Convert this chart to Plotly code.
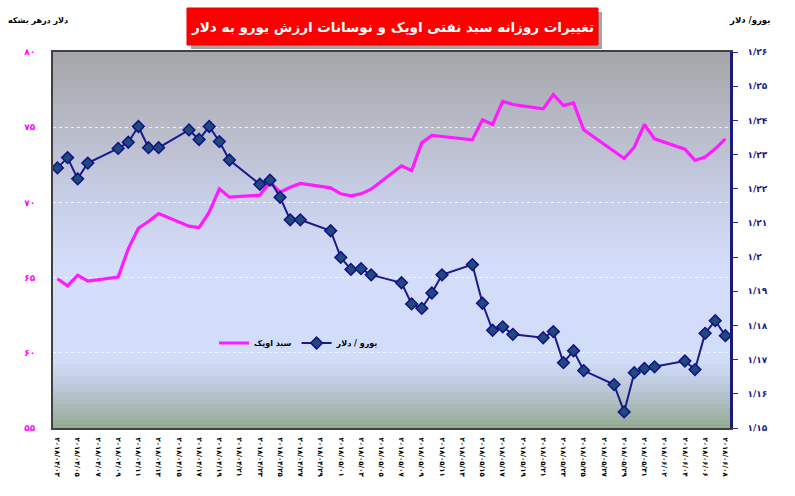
import plotly.graph_objects as go

# ---------------- data ----------------
dates = [
    "2018-04-03", "2018-04-04", "2018-04-05", "2018-04-06",
    "2018-04-09", "2018-04-10", "2018-04-11", "2018-04-12", "2018-04-13",
    "2018-04-16", "2018-04-17", "2018-04-18", "2018-04-19", "2018-04-20",
    "2018-04-23", "2018-04-24", "2018-04-25", "2018-04-26", "2018-04-27",
    "2018-04-30", "2018-05-01", "2018-05-02", "2018-05-03", "2018-05-04",
    "2018-05-07", "2018-05-08", "2018-05-09", "2018-05-10", "2018-05-11",
    "2018-05-14", "2018-05-15", "2018-05-16", "2018-05-17", "2018-05-18",
    "2018-05-21", "2018-05-22", "2018-05-23", "2018-05-24", "2018-05-25",
    "2018-05-28", "2018-05-29", "2018-05-30", "2018-05-31", "2018-06-01",
    "2018-06-04", "2018-06-05", "2018-06-06", "2018-06-07", "2018-06-08",
]

opec_basket = [
    64.92, 64.45, 65.16, 64.76,
    65.03, 66.91, 68.28, 68.73, 69.26,
    68.42, 68.33, 69.35, 70.90, 70.35,
    70.48, 71.34, 70.68, 71.01, 71.26,
    70.97, 70.57, 70.44, 70.57, 70.88,
    72.43, 72.12, 73.96, 74.45, 74.38,
    74.16, 75.49, 75.18, 76.73, 76.51,
    76.22, 77.17, 76.44, 76.62, 74.83,
    73.38, 72.92, 73.67, 75.18, 74.23,
    73.54, 72.79, 73.01, 73.56, 74.23,
]

eur_usd = [
    1.2261, 1.2291, 1.2229, 1.2275,
    1.2318, 1.2336, 1.2382, 1.2320, 1.2320,
    1.2372, 1.2344, 1.2382, 1.2338, 1.2284,
    1.2213, 1.2225, 1.2175, 1.2109, 1.2109,
    1.2077, 1.1999, 1.1964, 1.1966, 1.1948,
    1.1925, 1.1863, 1.1850, 1.1895, 1.1948,
    1.1978, 1.1865, 1.1786, 1.1796, 1.1774,
    1.1764, 1.1782, 1.1691, 1.1726, 1.1668,
    1.1627, 1.1547, 1.1662, 1.1674, 1.1679,
    1.1696, 1.1671, 1.1777, 1.1814, 1.1770,
]

x_tick_dates = [
    "2018-04-03", "2018-04-05", "2018-04-07", "2018-04-09", "2018-04-11",
    "2018-04-13", "2018-04-15", "2018-04-17", "2018-04-19", "2018-04-21",
    "2018-04-23", "2018-04-25", "2018-04-27", "2018-04-29", "2018-05-01",
    "2018-05-03", "2018-05-05", "2018-05-07", "2018-05-09", "2018-05-11",
    "2018-05-13", "2018-05-15", "2018-05-17", "2018-05-19", "2018-05-21",
    "2018-05-23", "2018-05-25", "2018-05-27", "2018-05-29", "2018-05-31",
    "2018-06-02", "2018-06-04", "2018-06-06", "2018-06-08",
]

left_ticks = [55, 60, 65, 70, 75, 80]
left_tick_labels = ["۵۵", "۶۰", "۶۵", "۷۰", "۷۵", "۸۰"]

right_ticks = [1.15, 1.16, 1.17, 1.18, 1.19, 1.20, 1.21, 1.22, 1.23, 1.24, 1.25, 1.26]
right_tick_labels = ["۱/۱۵", "۱/۱۶", "۱/۱۷", "۱/۱۸", "۱/۱۹", "۱/۲",
                     "۱/۲۱", "۱/۲۲", "۱/۲۳", "۱/۲۴", "۱/۲۵", "۱/۲۶"]

title_text = "تغییرات روزانه سبد نفتی اوپک و نوسانات ارزش یورو به دلار"
left_unit = "دلار درهر بشکه"
right_unit = "یورو/ دلار"
name_opec = "سبد اوپک"
name_eur = "یورو / دلار"

# ---------------- helpers ----------------
FA = str.maketrans("0123456789", "۰۱۲۳۴۵۶۷۸۹")
LRO, PDF = "\u202D", "\u202C"
x_tick_text = [LRO + d.replace("-", "/").translate(FA) + PDF for d in x_tick_dates]
right_tick_text = [LRO + t + PDF for t in right_tick_labels]

FONT = "DejaVu Sans"

fig = go.Figure()

fig.add_trace(go.Scatter(
    x=dates, y=opec_basket, name=name_opec, mode="lines",
    line=dict(color="#ff1aff", width=3.2),
    yaxis="y",
))
fig.add_trace(go.Scatter(
    x=dates, y=eur_usd, name=name_eur, mode="lines+markers",
    line=dict(color="#1a1a8c", width=2),
    marker=dict(symbol="diamond", size=9, color="#1f4a7a",
                line=dict(color="#10108a", width=1.5)),
    yaxis="y2",
))

# gradient background bands
stops = [
    (0.00, (166, 166, 168)),
    (0.20, (184, 187, 200)),
    (0.40, (200, 207, 232)),
    (0.58, (212, 221, 250)),
    (0.82, (210, 221, 250)),
    (0.90, (185, 198, 212)),
    (1.00, (148, 170, 146)),
]


def color_at(t):
    for (t0, c0), (t1, c1) in zip(stops[:-1], stops[1:]):
        if t0 <= t <= t1:
            f = (t - t0) / (t1 - t0) if t1 > t0 else 0
            return "rgb(%d,%d,%d)" % tuple(round(a + (b - a) * f) for a, b in zip(c0, c1))
    return "rgb(%d,%d,%d)" % stops[-1][1]


shapes = []
n = 94
for i in range(n):
    top = 1 - i / n
    bot = 1 - (i + 1) / n
    shapes.append(dict(type="rect", xref="paper", yref="paper",
                       x0=0, x1=1, y0=bot - 0.001, y1=top,
                       fillcolor=color_at((i + 0.5) / n), line=dict(width=0),
                       layer="below"))

PW, PH, L, T = 677, 376, 53, 52


def px_x(p):
    return (p - L) / PW


def px_y(p):
    return (T + PH - p) / PH


# title shadow + red box
shapes.append(dict(type="rect", xref="paper", yref="paper",
                   x0=px_x(191), x1=px_x(602), y0=px_y(49), y1=px_y(12),
                   fillcolor="rgba(90,90,90,0.55)", line=dict(width=0),
                   layer="above"))
shapes.append(dict(type="rect", xref="paper", yref="paper",
                   x0=px_x(187), x1=px_x(598), y0=px_y(45), y1=px_y(8),
                   fillcolor="#ff0000", line=dict(color="#e00000", width=1),
                   layer="above"))

annotations = [
    dict(text="<b>" + title_text + "</b>", xref="paper", yref="paper",
         x=px_x(392.5), y=px_y(27), xanchor="center", yanchor="middle",
         showarrow=False,
         font=dict(family=FONT, size=13.5, color="white")),
    dict(text="<b>" + left_unit + "</b>", xref="paper", yref="paper",
         x=px_x(6), y=px_y(20), xanchor="left", yanchor="middle",
         showarrow=False, font=dict(family=FONT, size=8, color="black")),
    dict(text="<b>" + right_unit + "</b>", xref="paper", yref="paper",
         x=px_x(772), y=px_y(20), xanchor="right", yanchor="middle",
         showarrow=False, font=dict(family=FONT, size=8.5, color="black")),
]

fig.update_layout(
    width=795, height=496,
    margin=dict(l=L, r=795 - L - PW, t=T, b=496 - T - PH, autoexpand=False),
    paper_bgcolor="white",
    plot_bgcolor="rgba(0,0,0,0)",
    font=dict(family=FONT, size=9, color="black"),
    shapes=shapes,
    annotations=annotations,
    showlegend=True,
    legend=dict(orientation="h", x=px_x(214), y=px_y(343),
                xanchor="left", yanchor="middle",
                bgcolor="rgba(0,0,0,0)",
                font=dict(family=FONT, size=8, color="black", weight="bold"),
                itemwidth=30, tracegroupgap=0),
    xaxis=dict(
        type="date", automargin=False,
        range=["2018-04-02 13:30", "2018-06-08 11:00"],
        tickvals=x_tick_dates, ticktext=x_tick_text,
        tickangle=90, ticks="", ticklabelstandoff=6,
        tickfont=dict(family=FONT, size=7, color="black", weight="bold"),
        showgrid=False, zeroline=False,
        showline=True, linecolor="#404040", linewidth=2, mirror=True,
    ),
    yaxis=dict(
        range=[55, 80], tickvals=left_ticks, ticktext=left_tick_labels,
        automargin=False,
        tickfont=dict(family=FONT, size=9, color="#ff00ff", weight="bold"),
        ticks="", ticklabelstandoff=14,
        showgrid=True, gridcolor="rgba(255,255,255,0.75)", griddash="dot",
        gridwidth=1, zeroline=False,
        showline=True, linecolor="#404040", linewidth=2,
    ),
    yaxis2=dict(
        range=[1.15, 1.26], tickvals=right_ticks, ticktext=right_tick_text,
        overlaying="y", side="right", automargin=False,
        tickfont=dict(family=FONT, size=9, color="#1a1a8c", weight="bold"),
        ticks="outside", ticklen=5, tickcolor="#2a2aa0", tickwidth=1,
        ticklabelstandoff=8,
        showgrid=False, zeroline=False,
        showline=True, linecolor="#1a1a7a", linewidth=2.5,
    ),
)

fig.write_html("out.html",
               config={"displayModeBar": False},
               post_script="document.body.style.margin='0';document.body.style.overflow='hidden';")
